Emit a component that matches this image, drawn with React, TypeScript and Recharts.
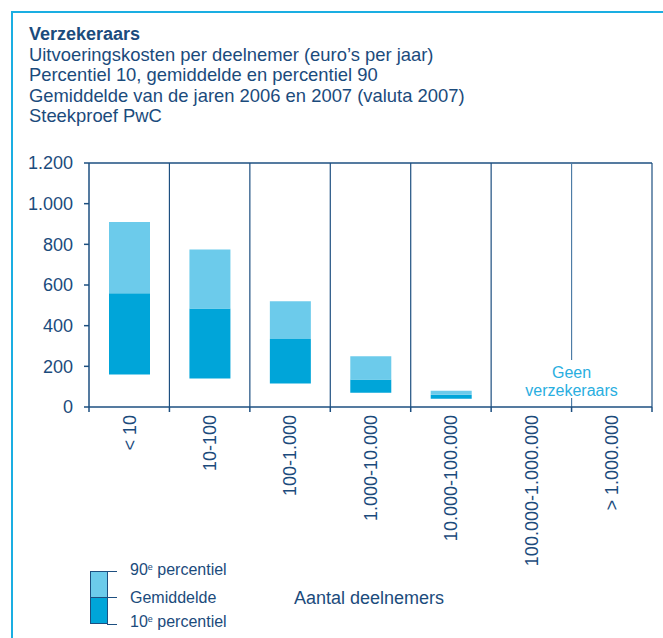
import { BarChart, Bar, XAxis, YAxis, ReferenceLine } from 'recharts';

const categories = ['< 10', '10-100', '100-1.000', '1.000-10.000', '10.000-100.000', '100.000-1.000.000', '> 1.000.000'];
const p10 = [160, 140, 115, 70, 40, null, null];
const mean = [560, 485, 335, 135, 60, null, null];
const p90 = [910, 775, 520, 250, 80, null, null];
const yTicks = [0, 200, 400, 600, 800, 1000, 1200];

const DARK = '#1b4b7c';
const AXIS = '#1d4f80';
const LIGHT_BAR = '#6ccbeb';
const DARK_BAR = '#00a5d9';
const CYAN = '#1aaee2';

const data = categories.map((name, i) => ({
  name,
  base: p10[i],
  low: p10[i] == null || mean[i] == null ? null : (mean[i] as number) - (p10[i] as number),
  high: p90[i] == null || mean[i] == null ? null : (p90[i] as number) - (mean[i] as number),
}));

const fmt = (v: number) => String(v).replace(/\B(?=(\d{3})+(?!\d))/g, '.');

function CatTick({ x, y, payload, index }: any) {
  const half = payload && payload.offset ? payload.offset : 0;
  const last = index === categories.length - 1;
  return (
    <g>
      <line x1={x - half} x2={x - half} y1={y} y2={y + 5} stroke={AXIS} strokeWidth={1.5} />
      {last && <line x1={x + half} x2={x + half} y1={y} y2={y + 5} stroke={AXIS} strokeWidth={1.5} />}
      <text
        x={0}
        y={0}
        transform={`translate(${x},${y + 8}) rotate(-90)`}
        textAnchor="end"
        dy="0.355em"
        fill={DARK}
        fontSize={18}
      >
        {payload.value}
      </text>
    </g>
  );
}

function GeenLabel({ viewBox }: any) {
  const cx = viewBox.x;
  const bottom = viewBox.y + viewBox.height;
  return (
    <g>
      <rect x={cx - 6} y={bottom - 47} width={12} height={38} fill="#fff" />
      <text x={cx} y={bottom - 29} textAnchor="middle" fill="#29aee0" fontSize={16}>
        Geen
      </text>
      <text x={cx} y={bottom - 11} textAnchor="middle" fill="#29aee0" fontSize={16}>
        verzekeraars
      </text>
    </g>
  );
}

function LegendItem({ y, children }: any) {
  return (
    <div style={{ position: 'absolute', left: 130, top: y - 10, height: 20, lineHeight: '20px', fontSize: 16, color: DARK, whiteSpace: 'nowrap' }}>
      {children}
    </div>
  );
}

export default function App() {
  const last = categories[categories.length - 1];
  return (
    <div
      style={{
        position: 'absolute',
        left: 0,
        top: 0,
        width: 663,
        height: 638,
        background: '#fff',
        fontFamily: '"Liberation Sans", Arial, sans-serif',
        overflow: 'hidden',
      }}
    >
      <div style={{ position: 'absolute', left: 11, top: 11, width: 660, height: 640, borderTop: `2px solid ${CYAN}`, borderLeft: `2px solid ${CYAN}` }} />
      <div style={{ position: 'absolute', left: 29, top: 24, fontSize: 18.4, lineHeight: '20.5px', color: DARK }}>
        <div style={{ fontWeight: 'bold', fontSize: 18 }}>Verzekeraars</div>
        <div>Uitvoeringskosten per deelnemer (euro’s per jaar)</div>
        <div>Percentiel 10, gemiddelde en percentiel 90</div>
        <div>Gemiddelde van de jaren 2006 en 2007 (valuta 2007)</div>
        <div>Steekproef PwC</div>
      </div>

      <div style={{ position: 'absolute', left: 0, top: 0 }}>
        <BarChart width={663} height={638} data={data} margin={{ top: 163, right: 11, bottom: 230, left: 29 }}>
          <XAxis
            dataKey="name"
            height={1}
            axisLine={{ stroke: AXIS, strokeWidth: 1.5 }}
            tickLine={false}
            tickSize={0}
            tickMargin={0}
            interval={0}
            tick={<CatTick />}
          />
          <YAxis
            domain={[0, 1200]}
            ticks={yTicks}
            width={60}
            tickSize={5}
            tickMargin={11}
            tickFormatter={fmt}
            tick={{ fill: DARK, fontSize: 18 }}
            axisLine={{ stroke: AXIS, strokeWidth: 1.5 }}
            tickLine={{ stroke: AXIS, strokeWidth: 1.5 }}
          />
          <ReferenceLine y={1200} stroke={AXIS} strokeWidth={1.5} />
          {categories.slice(1).map((c) => (
            <ReferenceLine
              key={c}
              x={c}
              position="start"
              stroke={c === last ? '#4d7ca6' : AXIS}
              strokeWidth={1.2}
              label={c === last ? <GeenLabel /> : undefined}
            />
          ))}
          <ReferenceLine x={last} position="end" stroke={AXIS} strokeWidth={1.2} />
          <Bar dataKey="base" stackId="a" fill="transparent" barSize={41} isAnimationActive={false} />
          <Bar dataKey="low" stackId="a" fill={DARK_BAR} barSize={41} isAnimationActive={false} />
          <Bar dataKey="high" stackId="a" fill={LIGHT_BAR} barSize={41} isAnimationActive={false} />
        </BarChart>
      </div>

      <div style={{ position: 'absolute', left: 90, top: 571, width: 18, height: 53, boxSizing: 'border-box', border: `1.5px solid ${AXIS}` }}>
        <div style={{ height: '50%', background: LIGHT_BAR, borderBottom: `1px solid ${AXIS}`, boxSizing: 'border-box' }} />
        <div style={{ height: '50%', background: DARK_BAR }} />
      </div>
      {[571, 597.5, 624].map((y) => (
        <div key={y} style={{ position: 'absolute', left: 107, top: y - 0.5, width: 10, height: 1, background: AXIS }} />
      ))}
      <LegendItem y={570}>
        90<sup style={{ fontSize: 9, verticalAlign: 'top', lineHeight: '14px' }}>e</sup> percentiel
      </LegendItem>
      <LegendItem y={598}>Gemiddelde</LegendItem>
      <LegendItem y={622}>
        10<sup style={{ fontSize: 9, verticalAlign: 'top', lineHeight: '14px' }}>e</sup> percentiel
      </LegendItem>
      <div style={{ position: 'absolute', left: 294, top: 587, fontSize: 18, lineHeight: '22px', color: DARK, whiteSpace: 'nowrap' }}>
        Aantal deelnemers
      </div>
    </div>
  );
}
